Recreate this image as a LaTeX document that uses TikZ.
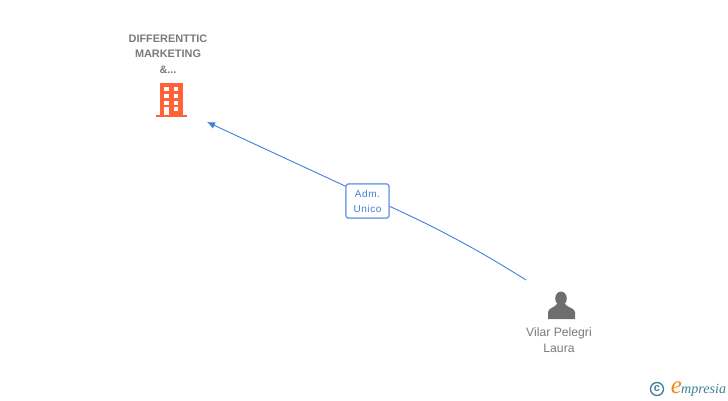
\documentclass[tikz,border=0pt]{standalone}
\usepackage{fontspec}
\setmainfont{Liberation Sans}
\newfontfamily\logofont{Liberation Serif}
\usepackage{tikz}
\usetikzlibrary{calc,positioning,arrows.meta}
\definecolor{linkblue}{HTML}{3F7FDC}
\definecolor{boxblue}{HTML}{6FA0E6}
\definecolor{textgrey}{HTML}{7A7A7A}
\definecolor{persongrey}{HTML}{6E6E6E}
\definecolor{towerred}{HTML}{FF6236}
\definecolor{logoteal}{HTML}{3C7F96}
\definecolor{logoorange}{HTML}{F08A1D}
\tikzset{
	link/.style={draw=linkblue, line width=0.9pt},
	rolebox/.style={draw=boxblue, line width=1.3pt, fill=white, rounded corners=2.5pt, minimum width=43pt, minimum height=34pt, inner sep=0pt, align=center, text=linkblue, font=\fontsize{10}{15}\selectfont\addfontfeature{LetterSpace=6}},
	firmlabel/.style={align=center, text=textgrey, font=\fontsize{10.9}{15.3}\selectfont\bfseries},
	personlabel/.style={align=center, text=textgrey, font=\fontsize{12.2}{15.3}\selectfont}
}
\begin{document}
\begin{tikzpicture}[x=1pt, y=-1pt]
	\useasboundingbox (0, 0) rectangle (728, 400);
	
	%%%%% firm %%%%%
	\node[firmlabel] (firm) at (168, 54) {DIFFERENTTIC\\MARKETING\\\&...};
	\fill[towerred] (160, 83) rectangle (183, 115);
	\fill[towerred] (155.5, 114.5) rectangle (187, 117);
	\foreach \wx in {164, 173.5} {
		\foreach \wy in {86.7, 94, 100.7} {
			\fill[white] (\wx, \wy) rectangle ++(4.7, 4);
		}
	}
	\fill[white] (164, 107.3) rectangle (168.7, 114.5);
	\fill[white] (173.5, 107.3) rectangle (178.2, 111.3);
	
	%%%%% person %%%%%
	\fill[persongrey] (561, 298.5) ellipse (5.8 and 7);
	\fill[persongrey] (548, 319) -- (548, 312) .. controls (549, 307.5) and (554, 308) .. (557, 304) -- (565, 304) .. controls (568, 308) and (574, 307.5) .. (575, 312) -- (575, 319) -- cycle;
	\node[personlabel] (person) at (559, 340) {Vilar Pelegri\\Laura};
	
	%%%%% links %%%%%
	\node[rolebox] (role) at (367.5, 201) {Adm.\\Unico};
	\coordinate (personend) at (526, 280);
	\coordinate (firmend) at (207, 122);
	\coordinate (rolein) at ($(role.center)+(0, -4.6)$);
	\draw[link] (personend) .. controls (480, 251) and (435, 226) .. (rolein);
	\draw[link, -{Latex[length=8pt, width=7pt]}] (rolein) -- (firmend);
	\node[rolebox] at (role) {Adm.\\Unico};
	
	%%%%% logo %%%%%
	\draw[logoteal, line width=1.3pt] (657, 389) circle (6.5);
	\node[text=logoteal, font=\fontsize{11}{11}\selectfont\bfseries, inner sep=0pt] (copyr) at (657, 388.5) {c};
	\node[text=logoorange, font=\logofont\fontsize{25}{25}\selectfont\itshape, inner sep=0pt] (logoe) at (676.5, 388) {e};
	\node[text=logoteal, font=\logofont\fontsize{14.1}{14.1}\selectfont\itshape, inner sep=0pt, anchor=west] (logotext) at (681, 390) {mpresia};
\end{tikzpicture}
\end{document}
